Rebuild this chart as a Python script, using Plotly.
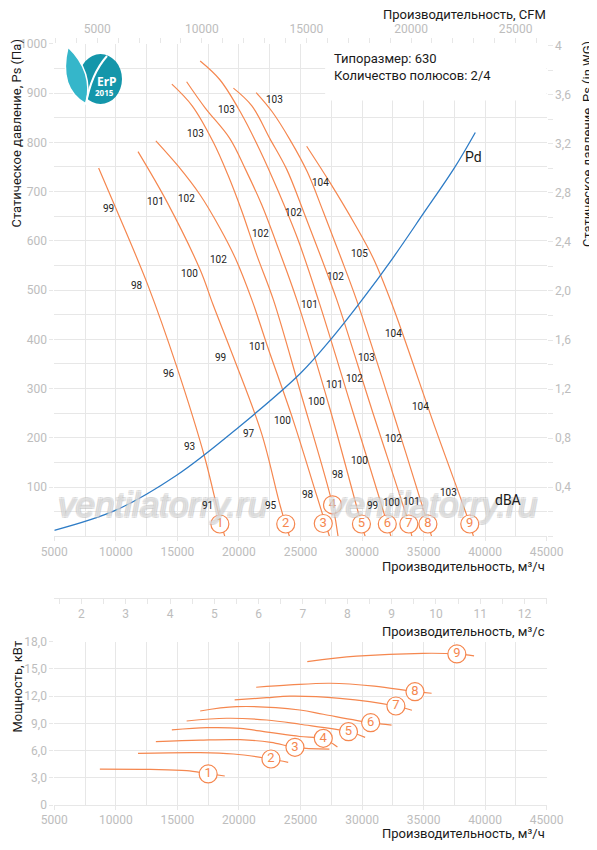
import plotly.graph_objects as go

# the page puts the figure 8px in from the top-left corner
OFF = 8
W = 597 - OFF
H = 850 - 2 * OFF

# ---- fan curves: static pressure (Pa) vs flow (m3/h) ----
q1 = [8600, 10000, 12600, 14950, 17200, 18400, 18850]
p1 = [748, 666, 510, 344, 162, 40, 0]
q2 = [11800, 14150, 16850, 17900, 19550, 21850, 23350, 24100]
p2 = [781, 679, 541, 470, 364, 208, 62, 0]
q3 = [13250, 15050, 16850, 18450, 19700, 21050, 22300, 24400, 26300, 27350]
p3 = [803, 752, 693, 626, 565, 480, 387, 236, 84, 0]
q4 = [14550, 16200, 17900, 19100, 20250, 21450, 22800, 24950, 27600, 28050]
p4 = [918, 874, 801, 734, 659, 571, 480, 297, 64, 0]
q5 = [15750, 17250, 19250, 20550, 21850, 23250, 24700, 27400, 29950, 30250]
p5 = [923, 870, 808, 744, 673, 581, 480, 258, 25, 0]
q6 = [16850, 18450, 20150, 21700, 23150, 24800, 26450, 29200, 32050, 32350]
p6 = [965, 927, 860, 784, 703, 602, 480, 257, 25, 0]
q7 = [19550, 21050, 22500, 23900, 25250, 26600, 27950, 30800, 33800, 34050]
p7 = [910, 874, 808, 744, 659, 571, 480, 257, 25, 0]
q8 = [21400, 22700, 24150, 25550, 26850, 28200, 29550, 32450, 35350, 35650]
p8 = [901, 862, 805, 740, 659, 571, 480, 257, 25, 0]
q9 = [25500, 27400, 29450, 30900, 32450, 36000, 38750, 39050]
p9 = [792, 718, 632, 565, 470, 216, 25, 0]

pd_q = [5000, 10000, 15000, 20000, 25000, 27500, 30000, 32500, 35000, 37500, 39200]
pd_p = [12, 53, 125, 222, 331, 401, 480, 565, 656, 748, 820]

# dBA values written along the curves
lbl_q = [22900, 18950, 16490, 9390, 13180, 15700, 21710, 18320, 16020, 26640,
         24410, 29830, 27860, 25710, 11690, 14320, 16020, 17460, 18540, 21520,
         20840, 23550, 22600, 32590, 30380, 29350, 27800, 26320, 34760, 32540,
         29830, 28070, 25630, 30860, 32410, 34030, 37060]
lbl_p = [886, 866, 817, 666, 679, 685, 614, 562, 533, 718,
         657, 575, 528, 471, 510, 330, 182, 62, 364, 386,
         208, 235, 62, 411, 363, 321, 309, 273, 263, 198,
         153, 126, 84, 62, 68, 70, 89]
lbl_txt = ['103', '103', '103', '99', '101', '102', '102', '102', '100', '104',
           '102', '105', '102', '101', '98', '96', '93', '91', '99', '101',
           '97', '100', '95', '104', '103', '102', '101', '100', '104', '102',
           '100', '98', '98', '99', '100', '101', '103']

num_q = [18450, 23800, 26850, 27600, 29950, 32050, 33800, 35350, 38750]
num_p = [25, 25, 26, 64, 25, 25, 25, 25, 25]
num_txt = ['1', '2', '3', '4', '5', '6', '7', '8', '9']

# ---- power curves: kW vs flow (m3/h) ----
w1_q = [8700, 12800, 15750, 17500, 18850]
w1_kw = [3.95, 3.92, 3.8, 3.45, 3.2]
w2_q = [11800, 16850, 19550, 22600, 24000]
w2_kw = [5.7, 5.77, 5.62, 5.07, 4.7]
w3_q = [13250, 16850, 20100, 22600, 24550, 27350]
w3_kw = [6.98, 7.15, 7.2, 6.9, 6.36, 6.15]
w4_q = [14550, 17400, 20100, 22500, 24950, 26850, 28000]
w4_kw = [8.27, 8.52, 8.45, 8.0, 7.55, 7.3, 6.4]
w5_q = [15750, 19000, 22250, 24950, 28900, 30250]
w5_kw = [9.26, 9.56, 9.37, 8.9, 8.08, 7.46]
w6_q = [16850, 19800, 24950, 26850, 30700, 32400]
w6_kw = [10.36, 10.84, 10.47, 10.0, 9.07, 8.8]
w7_q = [19650, 22250, 24150, 28200, 32750, 34050]
w7_kw = [11.58, 11.83, 12.0, 11.76, 10.91, 10.45]
w8_q = [21400, 24150, 27400, 31000, 34300, 35650]
w8_kw = [12.98, 13.23, 13.42, 13.1, 12.49, 12.32]
w9_q = [25550, 29550, 34950, 37700, 39100]
w9_kw = [15.8, 16.4, 16.72, 16.65, 16.43]

pw_num_q = [17500, 22600, 24550, 26850, 28900, 30700, 32750, 34300, 37700]
pw_num_kw = [3.42, 5.07, 6.36, 7.35, 8.08, 9.07, 10.91, 12.49, 16.65]

# ---- ticks ----
x_ticks = [5000, 10000, 15000, 20000, 25000, 30000, 35000, 40000, 45000]
p_ticks = [100, 200, 300, 400, 500, 600, 700, 800, 900, 1000]
wg_ticks = [0.4, 0.8, 1.2, 1.6, 2.0, 2.4, 2.8, 3.2, 3.6, 4.0]
wg_text = ['0,4', '0,8', '1,2', '1,6', '2,0', '2,4', '2,8', '3,2', '3,6', '4']
cfm_ticks = [5000, 10000, 15000, 20000, 25000]
ms_ticks = [2, 3, 4, 5, 6, 7, 8, 9, 10, 11, 12]
kw_ticks = [0, 3, 6, 9, 12, 15, 18]
kw_text = ['0', '3,0', '6,0', '9,0', '12,0', '15,0', '18,0']

CFM = 1.699      # m3/h per cfm
INWG = 249.089   # Pa per inch wg
MS = 3600        # m3/h per m3/s

ORANGE = '#F5874F'
BLUE = '#2E7CC6'
GRID = '#e7e7e7'
FONT = 'Roboto'
TF = dict(family=FONT, size=12, color='#bdbdbd')


# window pixel -> paper fraction
def fx(x):
    return (x - OFF) / W


def fy(y):
    return 1 - (y - OFF) / H


XD = [fx(54.3), fx(546.7)]
YD = [fy(536.3), fy(43.8)]
YD_PW = [fy(805), fy(641.7)]

fig = go.Figure()

fan = [(q1, p1), (q2, p2), (q3, p3), (q4, p4), (q5, p5), (q6, p6), (q7, p7), (q8, p8), (q9, p9)]
for q, p in fan:
    fig.add_trace(go.Scatter(x=q, y=p, mode='lines', hoverinfo='skip', showlegend=False,
                             line=dict(color=ORANGE, width=1.2, shape='spline', smoothing=1)))

fig.add_trace(go.Scatter(x=pd_q, y=pd_p, mode='lines', hoverinfo='skip', showlegend=False,
                         line=dict(color=BLUE, width=1.3, shape='spline', smoothing=1)))

fig.add_trace(go.Scatter(x=num_q, y=num_p, text=num_txt, mode='markers+text', hoverinfo='skip', showlegend=False,
                         textposition='middle center', textfont=dict(family=FONT, size=13, color=ORANGE),
                         marker=dict(size=18, color='white', line=dict(color=ORANGE, width=1.2))))

# invisible points so the extra axes get drawn
fig.add_trace(go.Scatter(x=[5000 / CFM], y=[0], xaxis='x2', yaxis='y', mode='markers',
                         marker=dict(opacity=0), hoverinfo='skip', showlegend=False))
fig.add_trace(go.Scatter(x=[5000], y=[0], xaxis='x', yaxis='y2', mode='markers',
                         marker=dict(opacity=0), hoverinfo='skip', showlegend=False))
fig.add_trace(go.Scatter(x=[5000 / MS], y=[0], xaxis='x3', yaxis='y', mode='markers',
                         marker=dict(opacity=0), hoverinfo='skip', showlegend=False))

power = [(w1_q, w1_kw), (w2_q, w2_kw), (w3_q, w3_kw), (w4_q, w4_kw), (w5_q, w5_kw),
         (w6_q, w6_kw), (w7_q, w7_kw), (w8_q, w8_kw), (w9_q, w9_kw)]
for q, k in power:
    fig.add_trace(go.Scatter(x=q, y=k, xaxis='x4', yaxis='y3', mode='lines', hoverinfo='skip', showlegend=False,
                             line=dict(color=ORANGE, width=1.2, shape='spline', smoothing=1)))

fig.add_trace(go.Scatter(x=pw_num_q, y=pw_num_kw, text=num_txt, xaxis='x4', yaxis='y3',
                         mode='markers+text', hoverinfo='skip', showlegend=False,
                         textposition='middle center', textfont=dict(family=FONT, size=13, color=ORANGE),
                         marker=dict(size=18, color='white', line=dict(color=ORANGE, width=1.2))))

xa = dict(domain=XD, range=[5000, 45000], tickvals=x_ticks, tickformat='d', tickfont=TF,
          showgrid=True, gridcolor=GRID, zeroline=False, showline=True, linecolor=GRID,
          ticks='outside', ticklen=4, tickcolor=GRID, automargin=False,
          minor=dict(tick0=0, dtick=2500, showgrid=True, gridcolor=GRID))

fig.update_layout(
    width=W, height=H, autosize=False,
    margin=dict(l=0, r=0, t=0, b=0, pad=0, autoexpand=False),
    paper_bgcolor='white', plot_bgcolor='white',
    font=dict(family=FONT, color='#222'),
    showlegend=False,
    xaxis=dict(xa, anchor='y'),
    yaxis=dict(domain=YD, anchor='x', range=[0, 1000], tickvals=p_ticks, tickfont=TF,
               showgrid=True, gridcolor=GRID, zeroline=True, zerolinecolor=GRID,
               ticks='outside', ticklen=4, tickcolor=GRID, automargin=False,
               minor=dict(tick0=0, dtick=50, showgrid=True, gridcolor=GRID)),
    yaxis2=dict(overlaying='y', side='right', anchor='x', range=[0, 1000 / INWG],
                tickvals=wg_ticks, ticktext=wg_text, tickfont=TF, showgrid=False, zeroline=False,
                ticks='outside', ticklen=5, tickcolor=GRID, automargin=False,
                minor=dict(tick0=0, dtick=0.2, ticks='outside', ticklen=5, tickcolor=GRID)),
    xaxis2=dict(overlaying='x', side='top', anchor='y', range=[5000 / CFM, 45000 / CFM],
                tickvals=cfm_ticks, tickformat='d', tickfont=TF, showgrid=False, zeroline=False,
                ticks='outside', ticklen=5, tickcolor=GRID, automargin=False,
                minor=dict(tick0=0, dtick=1000, ticks='outside', ticklen=5, tickcolor=GRID)),
    xaxis3=dict(overlaying='x', anchor='free', position=fy(598), side='bottom',
                range=[5000 / MS, 45000 / MS], tickvals=ms_ticks, tickfont=TF,
                showgrid=False, zeroline=False, showline=True, linecolor=GRID,
                ticks='outside', ticklen=5, tickcolor=GRID, automargin=False,
                minor=dict(tick0=0, dtick=0.5, ticks='outside', ticklen=5, tickcolor=GRID)),
    xaxis4=dict(xa, anchor='y3'),
    yaxis3=dict(domain=YD_PW, anchor='x4', range=[0, 18], tickvals=kw_ticks, ticktext=kw_text,
                tickfont=TF, showgrid=True, gridcolor=GRID, zeroline=False, automargin=False,
                ticks='outside', ticklen=4, tickcolor=GRID),
)

TITLE = dict(family=FONT, size=13, color='#1a1a1a')
ann = [
    dict(text='Производительность, CFM', x=fx(548), y=fy(15), xanchor='right'),
    dict(text='Производительность, м³/ч', x=fx(547), y=fy(566), xanchor='right'),
    dict(text='Производительность, м³/с', x=fx(547), y=fy(631), xanchor='right'),
    dict(text='Производительность, м³/ч', x=fx(547), y=fy(833), xanchor='right'),
    dict(text='Статическое давление, Ps (Па)', x=fx(16.5), y=fy(134), textangle=-90),
    dict(text='Статическое давление, Ps (in WG)', x=fx(587), y=fy(144), textangle=-90),
    dict(text='Мощность, кВт', x=fx(16.5), y=fy(687), textangle=-90),
]
for a in ann:
    a.update(xref='paper', yref='paper', showarrow=False, yanchor='middle', font=TITLE)
    a.setdefault('xanchor', 'center')
    fig.add_annotation(**a)

fig.add_annotation(text='Типоразмер: 630<br>Количество полюсов: 2/4', x=fx(332), y=fy(67),
                   xref='paper', yref='paper', xanchor='left', yanchor='middle', align='left',
                   showarrow=False, font=dict(family=FONT, size=13, color='#1a1a1a'))
fig.add_annotation(text='Pd', x=39040, y=771, xref='x', yref='y', showarrow=False,
                   font=dict(family=FONT, size=14, color='#1a1a1a'))

# watermark: pale letters with a grey outline
WM = dict(family='Liberation Sans', size=35, color='rgba(255,255,255,0.35)', style='italic',
          shadow='1px 1px 0 #b8b8b8, -1px -1px 0 #b8b8b8, 1px -1px 0 #b8b8b8, -1px 1px 0 #b8b8b8')
for cx in [162.5, 432]:
    fig.add_annotation(text='ventilatorry.ru', x=fx(cx), y=fy(505), xref='paper', yref='paper',
                       xanchor='center', yanchor='middle', showarrow=False, font=WM)

# curve labels go on top of the watermark
for q, p, t in zip(lbl_q, lbl_p, lbl_txt):
    fig.add_annotation(text=t, x=q, y=p, xref='x', yref='y', showarrow=False,
                       font=dict(family=FONT, size=10, color='#222'))
fig.add_annotation(text='dBA', x=41880, y=74, xref='x', yref='y', showarrow=False,
                   font=dict(family=FONT, size=14, color='#1a1a1a'))

# white box behind the size text
fig.add_shape(type='rect', xref='x', yref='y', x0=27000, x1=45000, y0=885, y1=1000,
              fillcolor='white', line=dict(width=0), layer='between')

# ErP 2015 logo
fig.add_shape(type='circle', xref='paper', yref='paper', x0=fx(79), x1=fx(122), y0=fy(104), y1=fy(54),
              fillcolor='#1496aa', line=dict(width=0))
leaf = 'M {},{} Q {},{} {},{} Q {},{} {},{} Z'.format(fx(68), fy(47), fx(58), fy(88), fx(86), fy(104),
                                                    fx(94), fy(72), fx(68), fy(47))
fig.add_shape(type='path', xref='paper', yref='paper', path=leaf, fillcolor='#35b6ca',
              line=dict(color='white', width=1.5))
vein = 'M {},{} Q {},{} {},{}'.format(fx(86), fy(104), fx(91), fy(74), fx(107), fy(56))
fig.add_shape(type='path', xref='paper', yref='paper', path=vein, line=dict(color='white', width=2))
fig.add_annotation(text='<b>ErP</b>', x=fx(107), y=fy(81), xref='paper', yref='paper', showarrow=False,
                   xanchor='center', yanchor='middle', font=dict(family='Noto Sans', size=12, color='white'))
fig.add_annotation(text='<b>2015</b>', x=fx(104), y=fy(92), xref='paper', yref='paper', showarrow=False,
                   xanchor='center', yanchor='middle', font=dict(family='Noto Sans', size=8, color='white'))

fig.write_html('out.html')
